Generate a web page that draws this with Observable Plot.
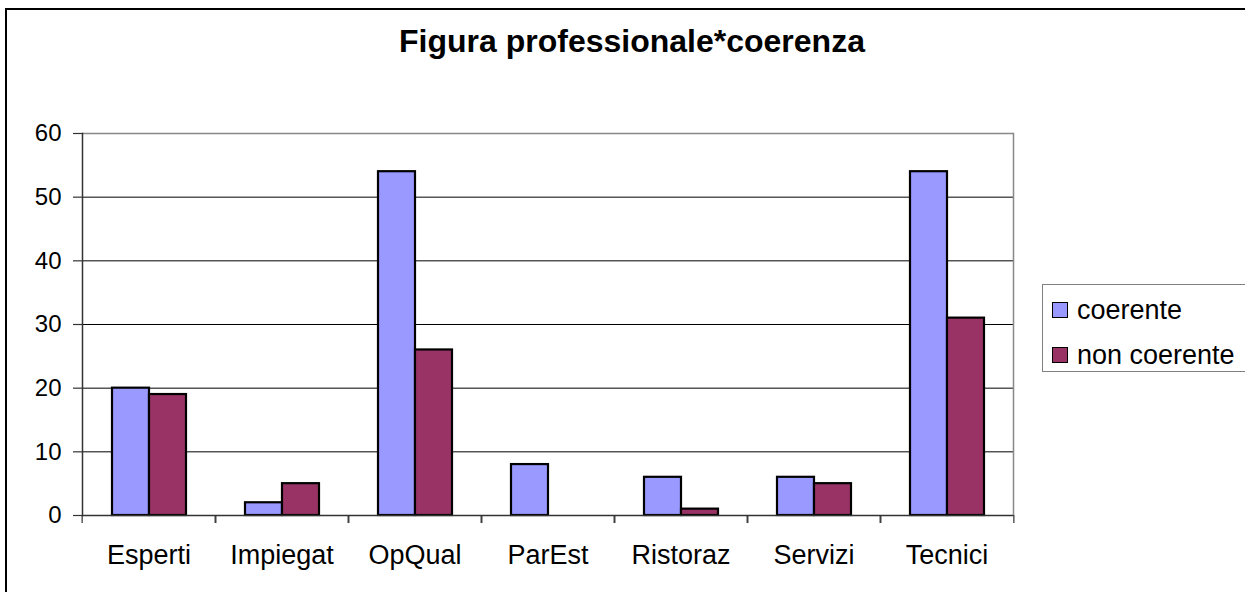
<!DOCTYPE html>
<html>
<head>
<meta charset="utf-8">
<script src="https://cdn.jsdelivr.net/npm/d3@7"></script>
<script src="https://cdn.jsdelivr.net/npm/@observablehq/plot@0.6"></script>
<style>
  html, body { margin: 0; padding: 0; background: #fff; overflow: hidden; }
  #wrap { position: relative; width: 1245px; height: 592px; font-family: "Liberation Sans", Arial, sans-serif; }
  #border { position: absolute; left: 5px; top: 8px; width: 1400px; height: 800px; border: 2px solid #000; box-sizing: border-box; }
  #title { position: absolute; left: 0; width: 1264px; top: 25px; text-align: center; font-size: 32px; font-weight: bold; line-height: 1; color: #000; }
  #chart { position: absolute; left: 0; top: 0; }
  #legend { position: absolute; left: 1042px; top: 284px; width: 300px; height: 88px; border: 1.5px solid #808080; box-sizing: border-box; }
  .item { position: absolute; left: 9px; font-size: 27px; line-height: 1; color: #000; white-space: nowrap; }
  .sw { display: inline-block; width: 16px; height: 16px; border: 1.5px solid #000; box-sizing: border-box; margin-right: 9px; vertical-align: middle; position: relative; top: -2px; }
</style>
</head>
<body>
<div id="wrap">
  <div id="border"></div>
  <div id="title"></div>
  <div id="chart"></div>
  <div id="legend"></div>
</div>
<script>
const titleText = "Figura professionale*coerenza";
const categories = ["Esperti", "Impiegat", "OpQual", "ParEst", "Ristoraz", "Servizi", "Tecnici"];
const series = ["coerente", "non coerente"];
const coerente = [20, 2, 54, 8, 6, 6, 54];
const nonCoerente = [19, 5, 26, 0, 1, 5, 31];
const colors = ["#9999FF", "#993366"];
const yTicks = [0, 10, 20, 30, 40, 50, 60];

const data = [];
categories.forEach((c, i) => {
  data.push({cat: c, series: series[0], value: coerente[i]});
  data.push({cat: c, series: series[1], value: nonCoerente[i]});
});

const W = 1245, H = 592, mL = 79, mR = 230, mT = 133, mB = 77;
const step = (W - mL - mR) / categories.length;

document.getElementById("title").textContent = titleText;

const chart = Plot.plot({
  width: W, height: H,
  marginLeft: mL, marginRight: mR, marginTop: mT, marginBottom: mB,
  style: {fontFamily: "'Liberation Sans', Arial, sans-serif", background: "transparent", color: "#000"},
  fx: {domain: categories, padding: 0, axis: null, label: null},
  x: {domain: series, paddingInner: 0, paddingOuter: 0.76, axis: null},
  y: {domain: [0, 60], axis: null},
  color: {domain: series, range: colors},
  marks: [
    Plot.ruleY(yTicks.slice(1, -1), {stroke: "#000", strokeWidth: 1}),
    Plot.ruleY([60], {stroke: "#888", strokeWidth: 1.5}),
    Plot.frame({facet: "super", anchor: "right", stroke: "#888", strokeWidth: 1.5}),
    Plot.barY(data, {fx: "cat", x: "series", y: "value", fill: "series", stroke: "#000", strokeWidth: 2.2}),
    Plot.ruleY([0], {stroke: "#333", strokeWidth: 1.5}),
    Plot.frame({facet: "super", anchor: "left", stroke: "#333", strokeWidth: 1.5}),
    Plot.axisY({ticks: yTicks, tickSize: 9, tickPadding: 12, fontSize: 24, label: null, stroke: "#333", strokeWidth: 1.2}),
    Plot.axisFx({anchor: "bottom", tickSize: 0, tickPadding: 29, fontSize: 27, label: null}),
    Plot.axisFx({anchor: "bottom", text: null, tickSize: 8, dx: -step / 2, label: null, stroke: "#333", strokeWidth: 1.2}),
    Plot.axisFx([categories[categories.length - 1]], {anchor: "bottom", text: null, tickSize: 8, dx: step / 2, label: null, stroke: "#333", strokeWidth: 1.2})
  ]
});
document.getElementById("chart").appendChild(chart);

const legend = document.getElementById("legend");
series.forEach((s, i) => {
  const item = document.createElement("div");
  item.className = "item";
  item.style.top = (i === 0 ? 12 : 57) + "px";
  const sw = document.createElement("span");
  sw.className = "sw";
  sw.style.background = colors[i];
  item.appendChild(sw);
  item.appendChild(document.createTextNode(s));
  legend.appendChild(item);
});
</script>
</body>
</html>
